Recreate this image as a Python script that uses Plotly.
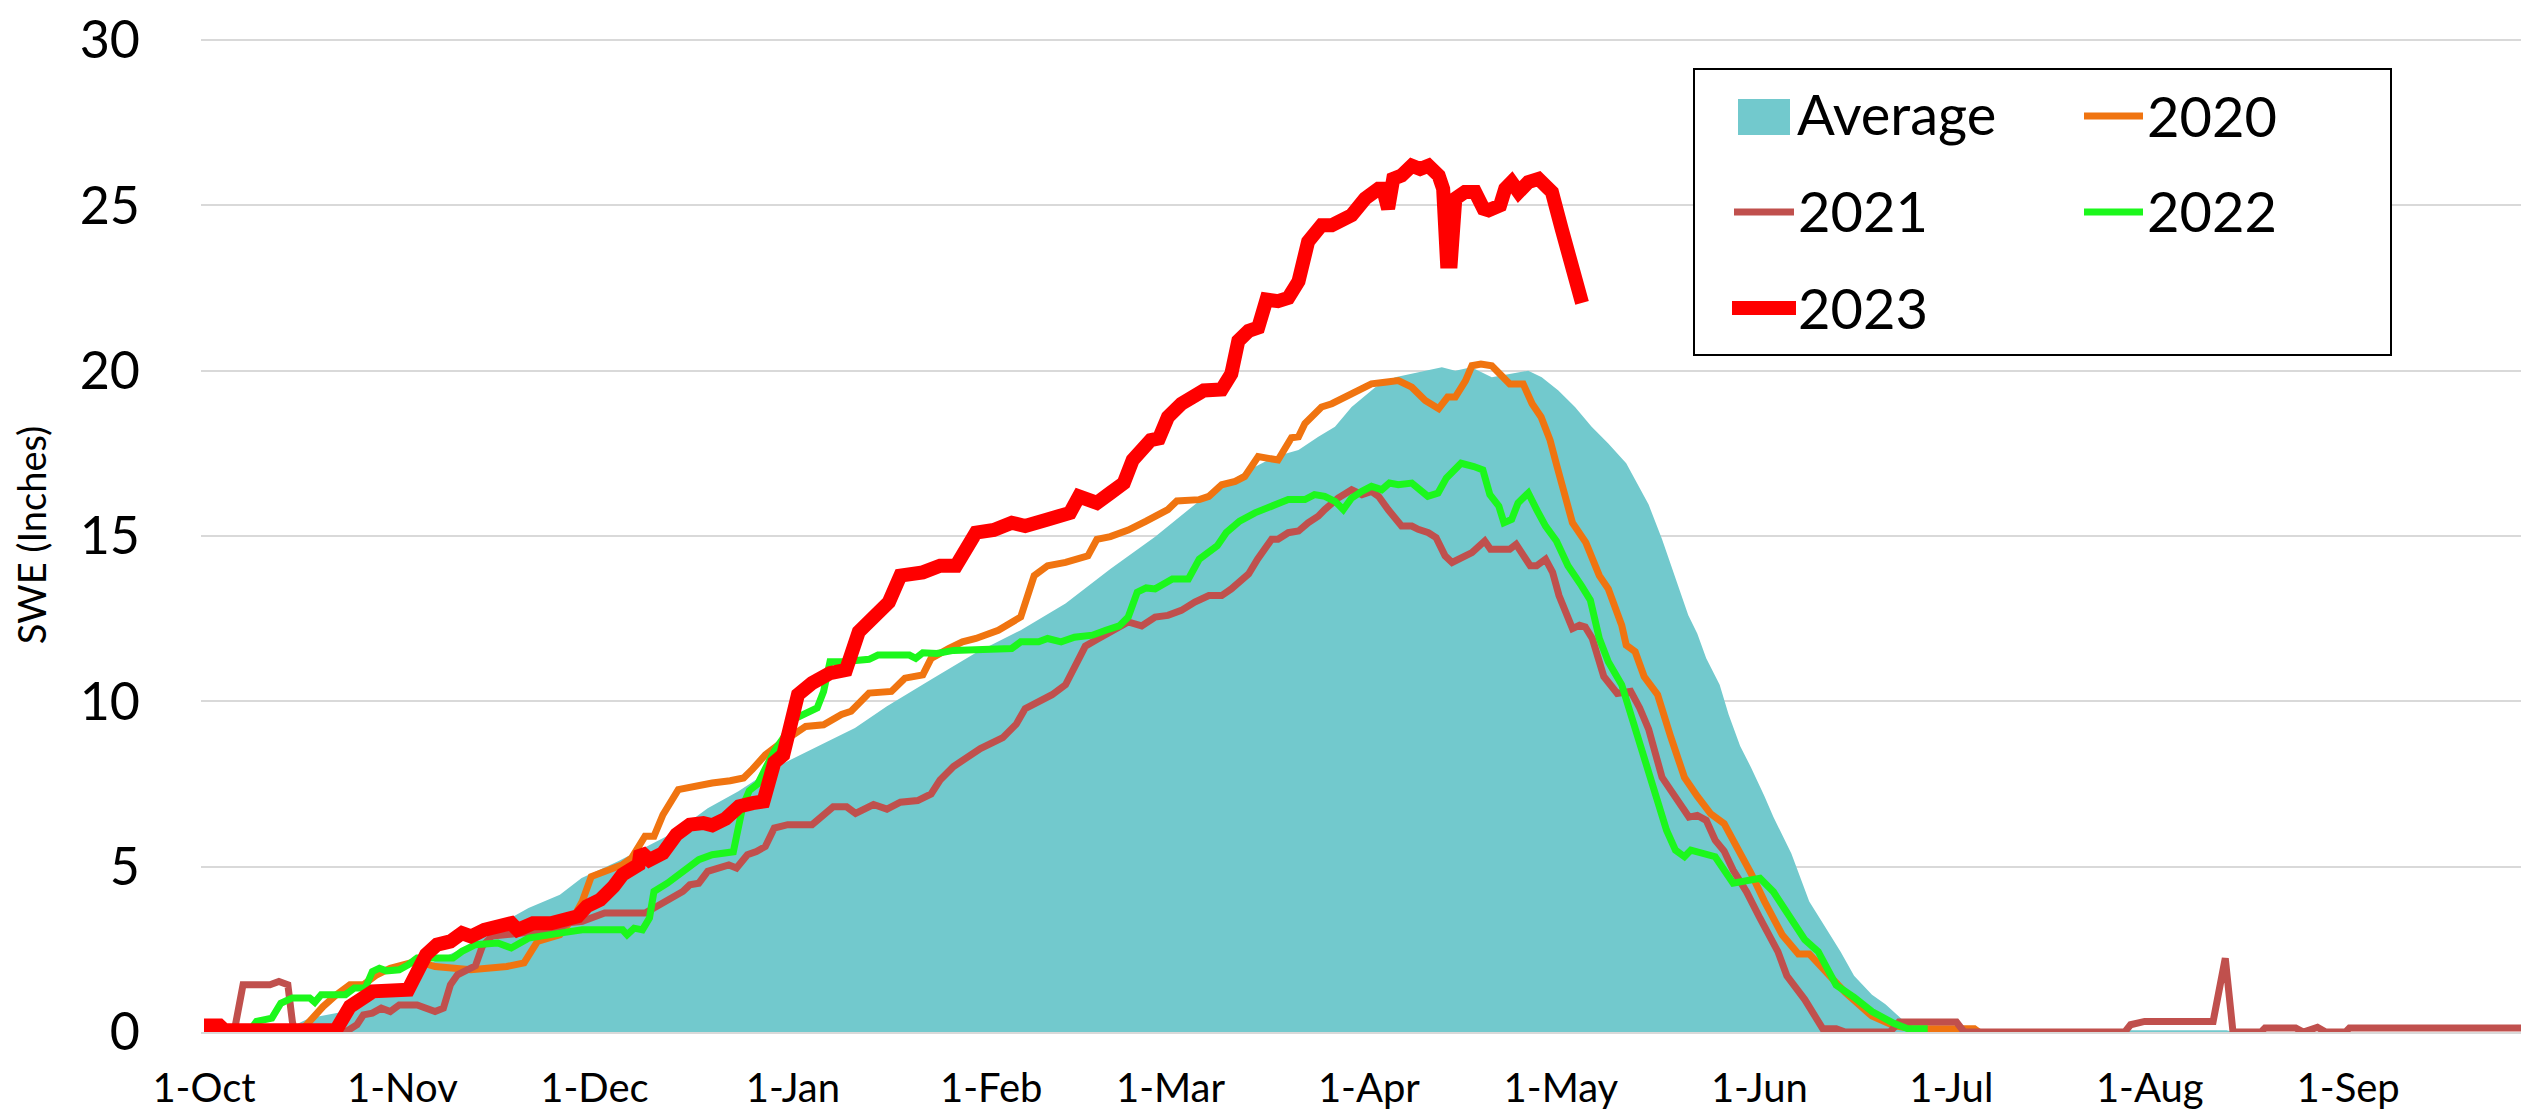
import plotly.graph_objects as go

# ---------------- data (day 0 = 1-Oct) ----------------
tick_days = [0, 31, 61, 92, 123, 151, 182, 212, 243, 273, 304, 335]
tick_labels = ["1-Oct", "1-Nov", "1-Dec", "1-Jan", "1-Feb", "1-Mar",
               "1-Apr", "1-May", "1-Jun", "1-Jul", "1-Aug", "1-Sep"]
y_ticks = [0, 5, 10, 15, 20, 25, 30]

avg_days = [0, 8, 13, 16.5, 22, 27.7, 32, 36, 41.7, 46, 50.7, 55.6, 59, 64.7, 69.6, 73.8,
            78.7, 83.5, 89, 93.3, 97.5, 101.7, 106.7, 113.6, 120.6, 127.6, 134.6, 141.6,
            148.6, 155.5, 162.3, 167.3, 171, 174.1, 176.7, 179.3, 183, 186.1, 190.8, 193.4,
            195.5, 198, 201.2, 203.8, 206.9, 209, 211.6, 214.2, 216.8, 219.4, 222.2, 223.6,
            225.7, 227.8, 229.8, 231.9, 233.3, 234.7, 236.8, 238.2, 240, 241.7, 243.8, 245.2,
            248, 249.4, 250.8, 252.9, 255.7, 257.8, 260.6, 262.7, 265.1, 266.9, 268.2, 300,
            301, 316, 317, 364]
avg_vals = [0, 0, 0.1, 0.42, 0.62, 1.13, 1.53, 2.14, 2.64, 3.24, 3.75, 4.15, 4.66, 5.16, 5.66,
            6.07, 6.77, 7.28, 7.98, 8.38, 8.79, 9.19, 9.85, 10.66, 11.47, 12.15, 12.96, 14.0,
            14.98, 16.06, 16.9, 17.4, 17.6, 18.0, 18.3, 18.9, 19.5, 19.8, 20.0, 20.1, 20.0,
            20.1, 19.8, 19.9, 20.0, 19.8, 19.4, 18.9, 18.3, 17.8, 17.2, 16.7, 15.95, 14.9,
            13.8, 12.6, 12.05, 11.3, 10.5, 9.6, 8.65, 8.0, 7.13, 6.5, 5.4, 4.67, 3.95, 3.3,
            2.43, 1.7, 1.13, 0.84, 0.4, 0.1, 0, 0, 0.05, 0.05, 0, 0]

y2020_days = [0, 15, 16.5, 18.6, 20.7, 22.8, 24.9, 27, 29.1, 31.2, 33.3, 36.1, 38.9, 41.7, 47.3,
              50, 52.1, 54.2, 55.6, 57.7, 59.1, 60.5, 62.6, 65.4, 66.8, 68.9, 70.3, 71.7, 74.1,
              76.6, 79.4, 82.2, 84.3, 85.7, 87.7, 89.8, 92.6, 94, 96.8, 99.6, 101.1, 103.9,
              107.4, 109.5, 112.3, 113.6, 116.4, 118.5, 120.6, 124.1, 127.6, 129.7, 131.8,
              134.6, 138.1, 139.5, 141.6, 144.4, 147.2, 148.6, 150.6, 152, 155.5, 157, 159,
              161.1, 162.6, 164.7, 167.8, 169.9, 171, 172, 174.6, 176.2, 178.3, 180.3, 182.4,
              184.5, 186.6, 188.7, 190.8, 192.9, 194.3, 195.5, 197.1, 198.1, 199.5, 201.2, 204,
              206.1, 207.5, 208.9, 210.3, 211.4, 212.8, 213.8, 215.9, 218, 219.4, 221.5, 222.2,
              223.6, 225, 227.1, 229.2, 231.3, 233.3, 235.4, 237.5, 239.6, 241.7, 243.8, 246.6,
              249.1, 250.8, 253.6, 256.4, 260.6, 264, 266.9, 276.6, 277.3]
y2020_vals = [0, 0, 0.32, 0.77, 1.13, 1.43, 1.43, 1.73, 1.93, 2.03, 2.14, 1.98, 1.93, 1.88, 1.98,
              2.09, 2.74, 2.84, 2.94, 3.45, 3.95, 4.7, 4.86, 5.06, 5.26, 5.92, 5.92, 6.57, 7.33,
              7.43, 7.53, 7.6, 7.68, 7.95, 8.38, 8.69, 9.09, 9.24, 9.29, 9.6, 9.7, 10.25, 10.3,
              10.7, 10.8, 11.3, 11.6, 11.8, 11.9, 12.15, 12.55, 13.8, 14.1, 14.2, 14.4, 14.9,
              14.98, 15.18, 15.45, 15.6, 15.8, 16.06, 16.1, 16.2, 16.55, 16.65, 16.8, 17.4,
              17.3, 17.97, 18.0, 18.4, 18.9, 19.0, 19.2, 19.4, 19.6, 19.65, 19.7, 19.5, 19.1,
              18.85, 19.2, 19.2, 19.7, 20.15, 20.2, 20.15, 19.6, 19.6, 19.0, 18.6, 17.9, 17.1,
              16.1, 15.4, 14.8, 13.8, 13.4, 12.3, 11.7, 11.5, 10.75, 10.2, 8.9, 7.7, 7.13, 6.6,
              6.3, 5.6, 4.8, 3.95, 2.93, 2.36, 2.36, 1.78, 1.2, 0.48, 0.19, 0.1, 0.1, 0]

y2021_days = [0, 4.7, 6.1, 10.3, 11.7, 13.1, 13.8, 14.1, 22.1, 23.9, 24.9, 26.3, 27.7, 29.1,
              30.5, 33.3, 34.7, 36.1, 37.4, 38.5, 39.6, 41, 42.4, 43.5, 45, 50, 55, 57, 59.1,
              62.6, 68.9, 70.3, 71.7, 73.8, 74.8, 75.9, 77.3, 78.7, 80.8, 82, 83.2, 84.9, 86.3,
              87.7, 89.1, 91.2, 95, 98.3, 100.4, 101.8, 104.6, 106.7, 108.8, 111.5, 113.6, 115,
              117.1, 119.2, 121.3, 124.8, 126.9, 128.3, 130.4, 132.5, 134.6, 136, 137.7, 139.5,
              141.6, 144.4, 146.5, 148.6, 150.6, 152.7, 154.8, 157, 159, 160.5, 163.2, 164.6,
              166.8, 167.8, 169.4, 171, 172.5, 174.1, 175.1, 177.2, 179.3, 180.9, 182.4, 183.5,
              185, 186.3, 187.1, 188.7, 189.7, 191.3, 192.5, 193.9, 195, 198.1, 200.1, 201, 204,
              205, 207.2, 208.2, 209.6, 210.7, 211.7, 213.8, 214.9, 215.8, 216.9, 218.7, 220.8,
              222.9, 224.3, 225.7, 227.8, 229.2, 232, 233.3, 234.7, 236.1, 237.5, 238.9, 241,
              243.1, 245.9, 247.3, 250.1, 252.9, 255, 256.4, 263.4, 264.8, 273.8, 275, 300.1,
              301, 303.2, 313.9, 315.8, 317, 321.4, 322, 326.8, 328, 330.2, 331.5, 334.6, 335.2,
              364]
y2021_vals = [0, 0, 1.43, 1.43, 1.53, 1.43, 0.32, 0.05, 0, 0.22, 0.52, 0.57, 0.72, 0.62, 0.82,
              0.82, 0.72, 0.62, 0.72, 1.43, 1.73, 1.88, 2.0, 2.6, 2.9, 3.0, 3.1, 3.3, 3.35, 3.6,
              3.6, 3.75, 3.9, 4.1, 4.25, 4.45, 4.5, 4.86, 5.01, 5.05, 4.96, 5.36, 5.46, 5.61,
              6.17, 6.27, 6.27, 6.81, 6.81, 6.61, 6.88, 6.74, 6.95, 7.0, 7.2, 7.62, 8.03, 8.3,
              8.57, 8.9, 9.31, 9.78, 9.98, 10.2, 10.5, 11.07, 11.67, 11.87, 12.08, 12.4, 12.28,
              12.55, 12.6, 12.75, 13.0, 13.2, 13.2, 13.4, 13.85, 14.3, 14.9, 14.9, 15.1, 15.15,
              15.4, 15.6, 15.8, 16.15, 16.4, 16.25, 16.35, 16.2, 15.8, 15.5, 15.3, 15.3, 15.2,
              15.1, 14.95, 14.4, 14.2, 14.5, 14.85, 14.6, 14.6, 14.75, 14.1, 14.1, 14.3, 13.9,
              13.2, 12.2, 12.3, 12.25, 11.9, 10.75, 10.24, 10.3, 9.8, 9.16, 7.7, 7.3, 6.5, 6.55,
              6.4, 5.8, 5.47, 4.9, 4.24, 3.44, 2.43, 1.7, 0.98, 0.1, 0.1, 0, 0, 0.3, 0.3, 0, 0,
              0.22, 0.32, 0.32, 2.23, 0, 0, 0.12, 0.12, 0, 0.14, 0, 0, 0.12, 0.12]

y2022_days = [0, 7, 8.2, 10.6, 12, 13.8, 16.5, 17.3, 18.3, 22.1, 23.5, 25.2, 26.3, 27.4, 28.5,
              30.5, 31.9, 33.3, 38.9, 40.3, 42.4, 45.9, 48, 50.7, 55.6, 59.1, 65.4, 66.1, 67.2,
              68.5, 69.6, 70.3, 72.4, 75.2, 77.3, 79.4, 82.7, 84.2, 85.2, 86.5, 89.1, 90.5, 92,
              95.8, 96.8, 97.8, 99.7, 103.9, 105.3, 110.2, 111.2, 112.3, 114.5, 117.1, 126.2,
              127.6, 130.4, 131.8, 133.9, 136, 138.8, 140.9, 143, 144.4, 145.8, 147.2, 148.6,
              151.3, 153.8, 155.5, 157, 158.3, 159.7, 161.8, 164.2, 166.7, 167.8, 169.4, 172,
              173.5, 175.1, 176.7, 178, 179.3, 180.9, 182.4, 184, 185.2, 186.6, 188.7, 191.2,
              192.8, 194.1, 196.4, 198.4, 199.8, 200.9, 202.3, 203.1, 204.3, 205.3, 206.9,
              208.2, 209.6, 211.3, 213.1, 215.2, 216.6, 218, 219.4, 221.5, 223.6, 226.4, 228.5,
              229.9, 231.3, 232.3, 234.7, 236.1, 238.9, 241, 243.1, 245.2, 248, 250.1, 252.2,
              255, 257.8, 260.6, 264, 266.2, 269.3]
y2022_vals = [0, 0, 0.32, 0.42, 0.87, 1.03, 1.03, 0.9, 1.13, 1.13, 1.33, 1.33, 1.83, 1.93, 1.85,
              1.88, 2.03, 2.24, 2.24, 2.44, 2.64, 2.69, 2.54, 2.84, 2.99, 3.09, 3.09, 2.94, 3.14,
              3.09, 3.45, 4.25, 4.5, 4.9, 5.21, 5.36, 5.45, 6.85, 7.3, 7.5, 8.5, 8.89, 9.45,
              9.8, 10.3, 11.2, 11.2, 11.27, 11.4, 11.4, 11.3, 11.47, 11.45, 11.54, 11.6, 11.8,
              11.8, 11.9, 11.8, 11.94, 12.0, 12.15, 12.28, 12.55, 13.3, 13.43, 13.4, 13.7, 13.7,
              14.3, 14.5, 14.7, 15.1, 15.45, 15.7, 15.9, 15.95, 16.1, 16.1, 16.25, 16.2, 16.05,
              15.8, 16.15, 16.35, 16.5, 16.4, 16.6, 16.55, 16.6, 16.2, 16.3, 16.75, 17.2, 17.1,
              17.0, 16.25, 15.9, 15.4, 15.5, 16.0, 16.3, 15.8, 15.3, 14.85, 14.1, 13.5, 13.06,
              11.9, 11.2, 10.5, 9.2, 7.3, 6.1, 5.5, 5.3, 5.5, 5.4, 5.3, 4.5, 4.6, 4.65, 4.24,
              3.37, 2.79, 2.43, 1.42, 1.05, 0.62, 0.26, 0.1, 0.1]

y2023_days = [0, 2.4, 3.2, 20.6, 22.8, 25.3, 26.4, 31.9, 32.9, 34.7, 36.4, 38.5, 40.3, 41.7,
              43.8, 45.9, 48, 49, 51.4, 54.2, 55.6, 58.4, 59.8, 61.9, 64, 65.4, 67.9, 68.2, 69.6,
              71.7, 73.8, 75.9, 78, 79.4, 81.5, 83.6, 85.7, 87.4, 89.1, 90.5, 92.8, 95, 97.8,
              100.3, 102.3, 105, 107, 108.8, 110.9, 112.3, 115, 117.5, 120.6, 123.4, 126.2,
              128.3, 131.8, 135.3, 136.7, 139.5, 141.6, 143.7, 145.1, 147.9, 149.2, 150.6, 152.7,
              154.5, 156.2, 159, 160.5, 161.6, 163.2, 164.7, 166, 167.8, 169.4, 171, 172.5,
              174.6, 176.2, 179.3, 181.4, 183.5, 184.2, 185, 185.8, 187.1, 188.7, 190, 191.3,
              192.9, 193.6, 194.2, 194.8, 195.5, 197, 198.6, 199.9, 200.7, 202.5, 203.3, 204.3,
              205.4, 206.9, 208.5, 209.3, 210.6, 212.1, 213.7, 215.3]
y2023_vals = [0.2, 0.2, 0.05, 0.05, 0.77, 1.13, 1.23, 1.28, 1.73, 2.34, 2.64, 2.74, 2.99, 2.89,
              3.09, 3.14, 3.29, 3.09, 3.29, 3.29, 3.39, 3.5, 3.8, 4.0, 4.4, 4.76, 5.06, 5.46, 5.2,
              5.41, 5.97, 6.27, 6.32, 6.25, 6.45, 6.82, 6.92, 6.97, 8.15, 8.38, 10.2, 10.55,
              10.85, 10.95, 12.1, 12.55, 13.0, 13.8, 13.8, 13.9, 14.1, 14.1, 15.1, 15.18, 15.4,
              15.3, 15.5, 15.7, 16.2, 16.0, 16.3, 16.6, 17.3, 17.9, 17.95, 18.6, 19.0, 19.2,
              19.4, 19.43, 19.9, 20.9, 21.2, 21.3, 22.15, 22.1, 22.2, 22.7, 23.9, 24.4, 24.4,
              24.7, 25.2, 25.5, 25.5, 24.9, 25.8, 25.9, 26.2, 26.1, 26.2, 25.9, 25.5, 23.3, 23.3,
              25.2, 25.4, 25.4, 24.9, 24.85, 25.0, 25.5, 25.7, 25.4, 25.7, 25.8, 25.6, 25.4,
              24.3, 23.1, 22.05]

# ---------------- styling ----------------
FONT = "Lato"
C_AVG = "#72C9CD"
C_2020 = "#F07410"
C_2021 = "#C0504D"
C_2022 = "#1CF71C"
C_2023 = "#FF0000"

W, H = 2529, 1109
Y_MAX = 30.06
ML, MR, MB = 193, 0, 85
PH = round(992 * Y_MAX / 30)
MT = H - MB - PH
PW = W - ML - MR


def px(x):
    return (x - ML) / PW


def py(y):
    return (H - MB - y) / PH


fig = go.Figure()
fig.add_trace(go.Scatter(x=avg_days, y=avg_vals, name="Average", mode="lines",
                         fill="tozeroy", fillcolor=C_AVG,
                         line=dict(width=0, color=C_AVG)))
fig.add_trace(go.Scatter(x=y2020_days, y=y2020_vals, name="2020", mode="lines",
                         line=dict(width=7, color=C_2020)))
fig.add_trace(go.Scatter(x=y2021_days, y=y2021_vals, name="2021", mode="lines",
                         line=dict(width=7, color=C_2021)))
fig.add_trace(go.Scatter(x=y2022_days, y=y2022_vals, name="2022", mode="lines",
                         line=dict(width=7, color=C_2022)))
fig.add_trace(go.Scatter(x=y2023_days, y=y2023_vals, name="2023", mode="lines",
                         line=dict(width=14, color=C_2023)))

# ---------------- manual legend ----------------
shapes = [
    dict(type="rect", xref="paper", yref="paper", x0=px(1686), x1=px(2383),
         y0=py(61), y1=py(347), line=dict(color="black", width=2),
         fillcolor="white", layer="above"),
    dict(type="rect", xref="paper", yref="paper", x0=px(1730), x1=px(1782),
         y0=py(91), y1=py(127), line=dict(width=0), fillcolor=C_AVG, layer="above"),
]
leg_lines = [(2076, 2135, 108, C_2020, 7), (1726, 1786, 204, C_2021, 7),
             (2076, 2135, 204, C_2022, 7), (1724, 1788, 300, C_2023, 14)]
for x0, x1, yy, c, w in leg_lines:
    shapes.append(dict(type="line", xref="paper", yref="paper", x0=px(x0), x1=px(x1),
                       y0=py(yy), y1=py(yy), line=dict(color=c, width=w), layer="above"))

annotations = []
leg_texts = [("Average", 1787, 106), ("2020", 2137, 107), ("2021", 1788, 203),
             ("2022", 2137, 203), ("2023", 1788, 299)]
for t, x, y in leg_texts:
    annotations.append(dict(text=t, xref="paper", yref="paper", x=px(x), y=py(y),
                            xanchor="left", yanchor="middle", showarrow=False,
                            font=dict(family=FONT, size=56, color="black")))

fig.update_layout(
    width=W, height=H,
    margin=dict(l=ML, r=MR, t=MT, b=MB),
    paper_bgcolor="white", plot_bgcolor="white",
    showlegend=False,
    shapes=shapes, annotations=annotations,
    font=dict(family=FONT, color="black"),
    xaxis=dict(range=[-0.47, 364.5], tickmode="array", tickvals=tick_days,
               ticktext=tick_labels, showgrid=False, zeroline=False,
               showline=True, linecolor="#D9D9D9", linewidth=2, ticks="",
               ticklabelstandoff=20, ticklabeloverflow="allow",
               tickfont=dict(family=FONT, size=40, color="black")),
    yaxis=dict(range=[0, Y_MAX], tickmode="array", tickvals=y_ticks,
               showgrid=True, gridcolor="#D9D9D9", gridwidth=2, zeroline=False,
               showline=False, ticks="", ticklabelstandoff=60,
               ticklabeloverflow="allow",
               tickfont=dict(family=FONT, size=52, color="black"),
               title=dict(text="SWE (Inches)", standoff=28,
                          font=dict(family=FONT, size=38, color="black"))),
)

fig.write_html("out.html")
